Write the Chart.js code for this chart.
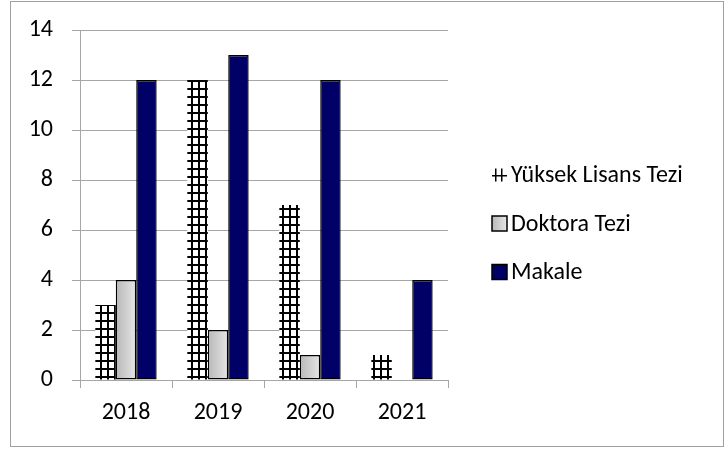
<!DOCTYPE html>
<html>
<head>
<meta charset="utf-8">
<script src="https://cdn.jsdelivr.net/npm/chart.js@4"></script>
<style>
  html, body { margin: 0; padding: 0; background: #fff; }
  #chart { display: block; }
</style>
</head>
<body>
<canvas id="chart" width="725" height="449"></canvas>
<script>
const years = ['2018', '2019', '2020', '2021'];
const seriesNames = ['Yüksek Lisans Tezi', 'Doktora Tezi', 'Makale'];
const yuksekLisans = [3, 12, 7, 1];
const doktora = [4, 2, 1, 0];
const makale = [12, 13, 12, 4];
const yMax = 14;
const yStep = 2;

const FONT = "Carlito, Lato, 'Open Sans', sans-serif";
const TEXT = '#000';
const AXIS = '#a6a6a6';

// "#" style hatch used by Excel for the first series
function makeHatch() {
  const tile = document.createElement('canvas');
  tile.width = 7;
  tile.height = 8;
  const t = tile.getContext('2d');
  t.fillStyle = '#fff';
  t.fillRect(0, 0, 7, 8);
  t.fillStyle = '#000';
  t.fillRect(0, 0, 7, 2);
  t.fillRect(2, 0, 2, 8);
  return document.getElementById('chart').getContext('2d').createPattern(tile, 'repeat');
}
const hatch = makeHatch();

// light grey bars have a left-to-right gradient
function greyFill(ctx) {
  if (ctx.type !== 'data') return '#d2d2d2';
  const x = ctx.chart.scales.x;
  const c = x ? x.getPixelForValue(ctx.dataIndex) : NaN;
  const w = x ? x.width / years.length / 4.5 : NaN;
  if (!isFinite(c) || !isFinite(w) || w <= 0) return '#d2d2d2';
  const g = ctx.chart.ctx.createLinearGradient(c - w / 2, 0, c + w / 2, 0);
  g.addColorStop(0, '#b8b8b8');
  g.addColorStop(1, '#e6e6e6');
  return g;
}

const framePlugin = {
  id: 'frame',
  beforeDraw(chart) {
    const c = chart.ctx;
    c.save();
    c.fillStyle = '#fff';
    c.fillRect(0, 0, chart.width, chart.height);
    c.strokeStyle = '#a0a0a0';
    c.lineWidth = 1;
    c.strokeRect(10.5, 1.5, 713, 445);
    c.restore();
  }
};

const legendPlugin = {
  id: 'sideLegend',
  afterDraw(chart) {
    const c = chart.ctx;
    c.save();
    c.font = '24px ' + FONT;
    c.textBaseline = 'middle';
    chart.data.datasets.forEach((ds, i) => {
      const cy = 175 + i * 48.5;
      const bx = 492, by = cy - 7.5, s = 15;
      if (i === 0) {
        c.fillStyle = '#000';
        c.fillRect(bx + 3, by + 1, 1.5, 13);
        c.fillRect(bx + 9, by + 1, 1.5, 13);
        c.fillRect(bx, cy, 15, 1.5);
      } else {
        if (i === 1) {
          const g = c.createLinearGradient(bx, 0, bx + s, 0);
          g.addColorStop(0, '#b8b8b8');
          g.addColorStop(1, '#e6e6e6');
          c.fillStyle = g;
        } else {
          c.fillStyle = ds.backgroundColor;
        }
        c.fillRect(bx, by, s, s);
        c.strokeStyle = '#000';
        c.lineWidth = 1.5;
        c.strokeRect(bx, by, s, s);
      }
      c.fillStyle = TEXT;
      c.fillText(ds.label, 511, cy + 1);
    });
    c.restore();
  }
};

const chart = new Chart(document.getElementById('chart'), {
  type: 'bar',
  data: {
    labels: years,
    datasets: [
      {
        label: seriesNames[0],
        data: yuksekLisans,
        backgroundColor: hatch,
        borderWidth: 0
      },
      {
        label: seriesNames[1],
        data: doktora,
        backgroundColor: greyFill,
        borderColor: '#000',
        borderWidth: 1.5,
        borderSkipped: false
      },
      {
        label: seriesNames[2],
        data: makale,
        backgroundColor: '#000066',
        borderColor: '#000',
        borderWidth: 1.5,
        borderSkipped: false
      }
    ]
  },
  options: {
    responsive: false,
    animation: false,
    devicePixelRatio: 1,
    categoryPercentage: 3 / 4.5,
    barPercentage: 1,
    layout: { padding: { left: 0, top: 30, right: 277, bottom: 0 } },
    plugins: {
      legend: { display: false },
      tooltip: { enabled: false }
    },
    scales: {
      x: {
        offset: true,
        grid: {
          offset: true,
          drawOnChartArea: false,
          drawTicks: true,
          tickLength: 8,
          color: AXIS
        },
        border: { color: AXIS },
        ticks: {
          color: TEXT,
          font: { family: FONT, size: 24 },
          padding: 11
        },
        afterFit(scale) { scale.height = 69; }
      },
      y: {
        min: 0,
        max: yMax,
        ticks: {
          stepSize: yStep,
          color: TEXT,
          font: { family: FONT, size: 24 },
          padding: 19
        },
        grid: { color: AXIS, tickLength: 8 },
        border: { color: AXIS },
        afterFit(scale) {
          scale.width = 80;
          // tick padding is horizontal here, keep it out of the top/bottom room
          scale.paddingTop = 15;
          scale.paddingBottom = 15;
        }
      }
    }
  },
  plugins: [framePlugin, legendPlugin]
});
// second pass so the grey gradient can use the laid-out x scale
chart.update();
</script>
</body>
</html>
